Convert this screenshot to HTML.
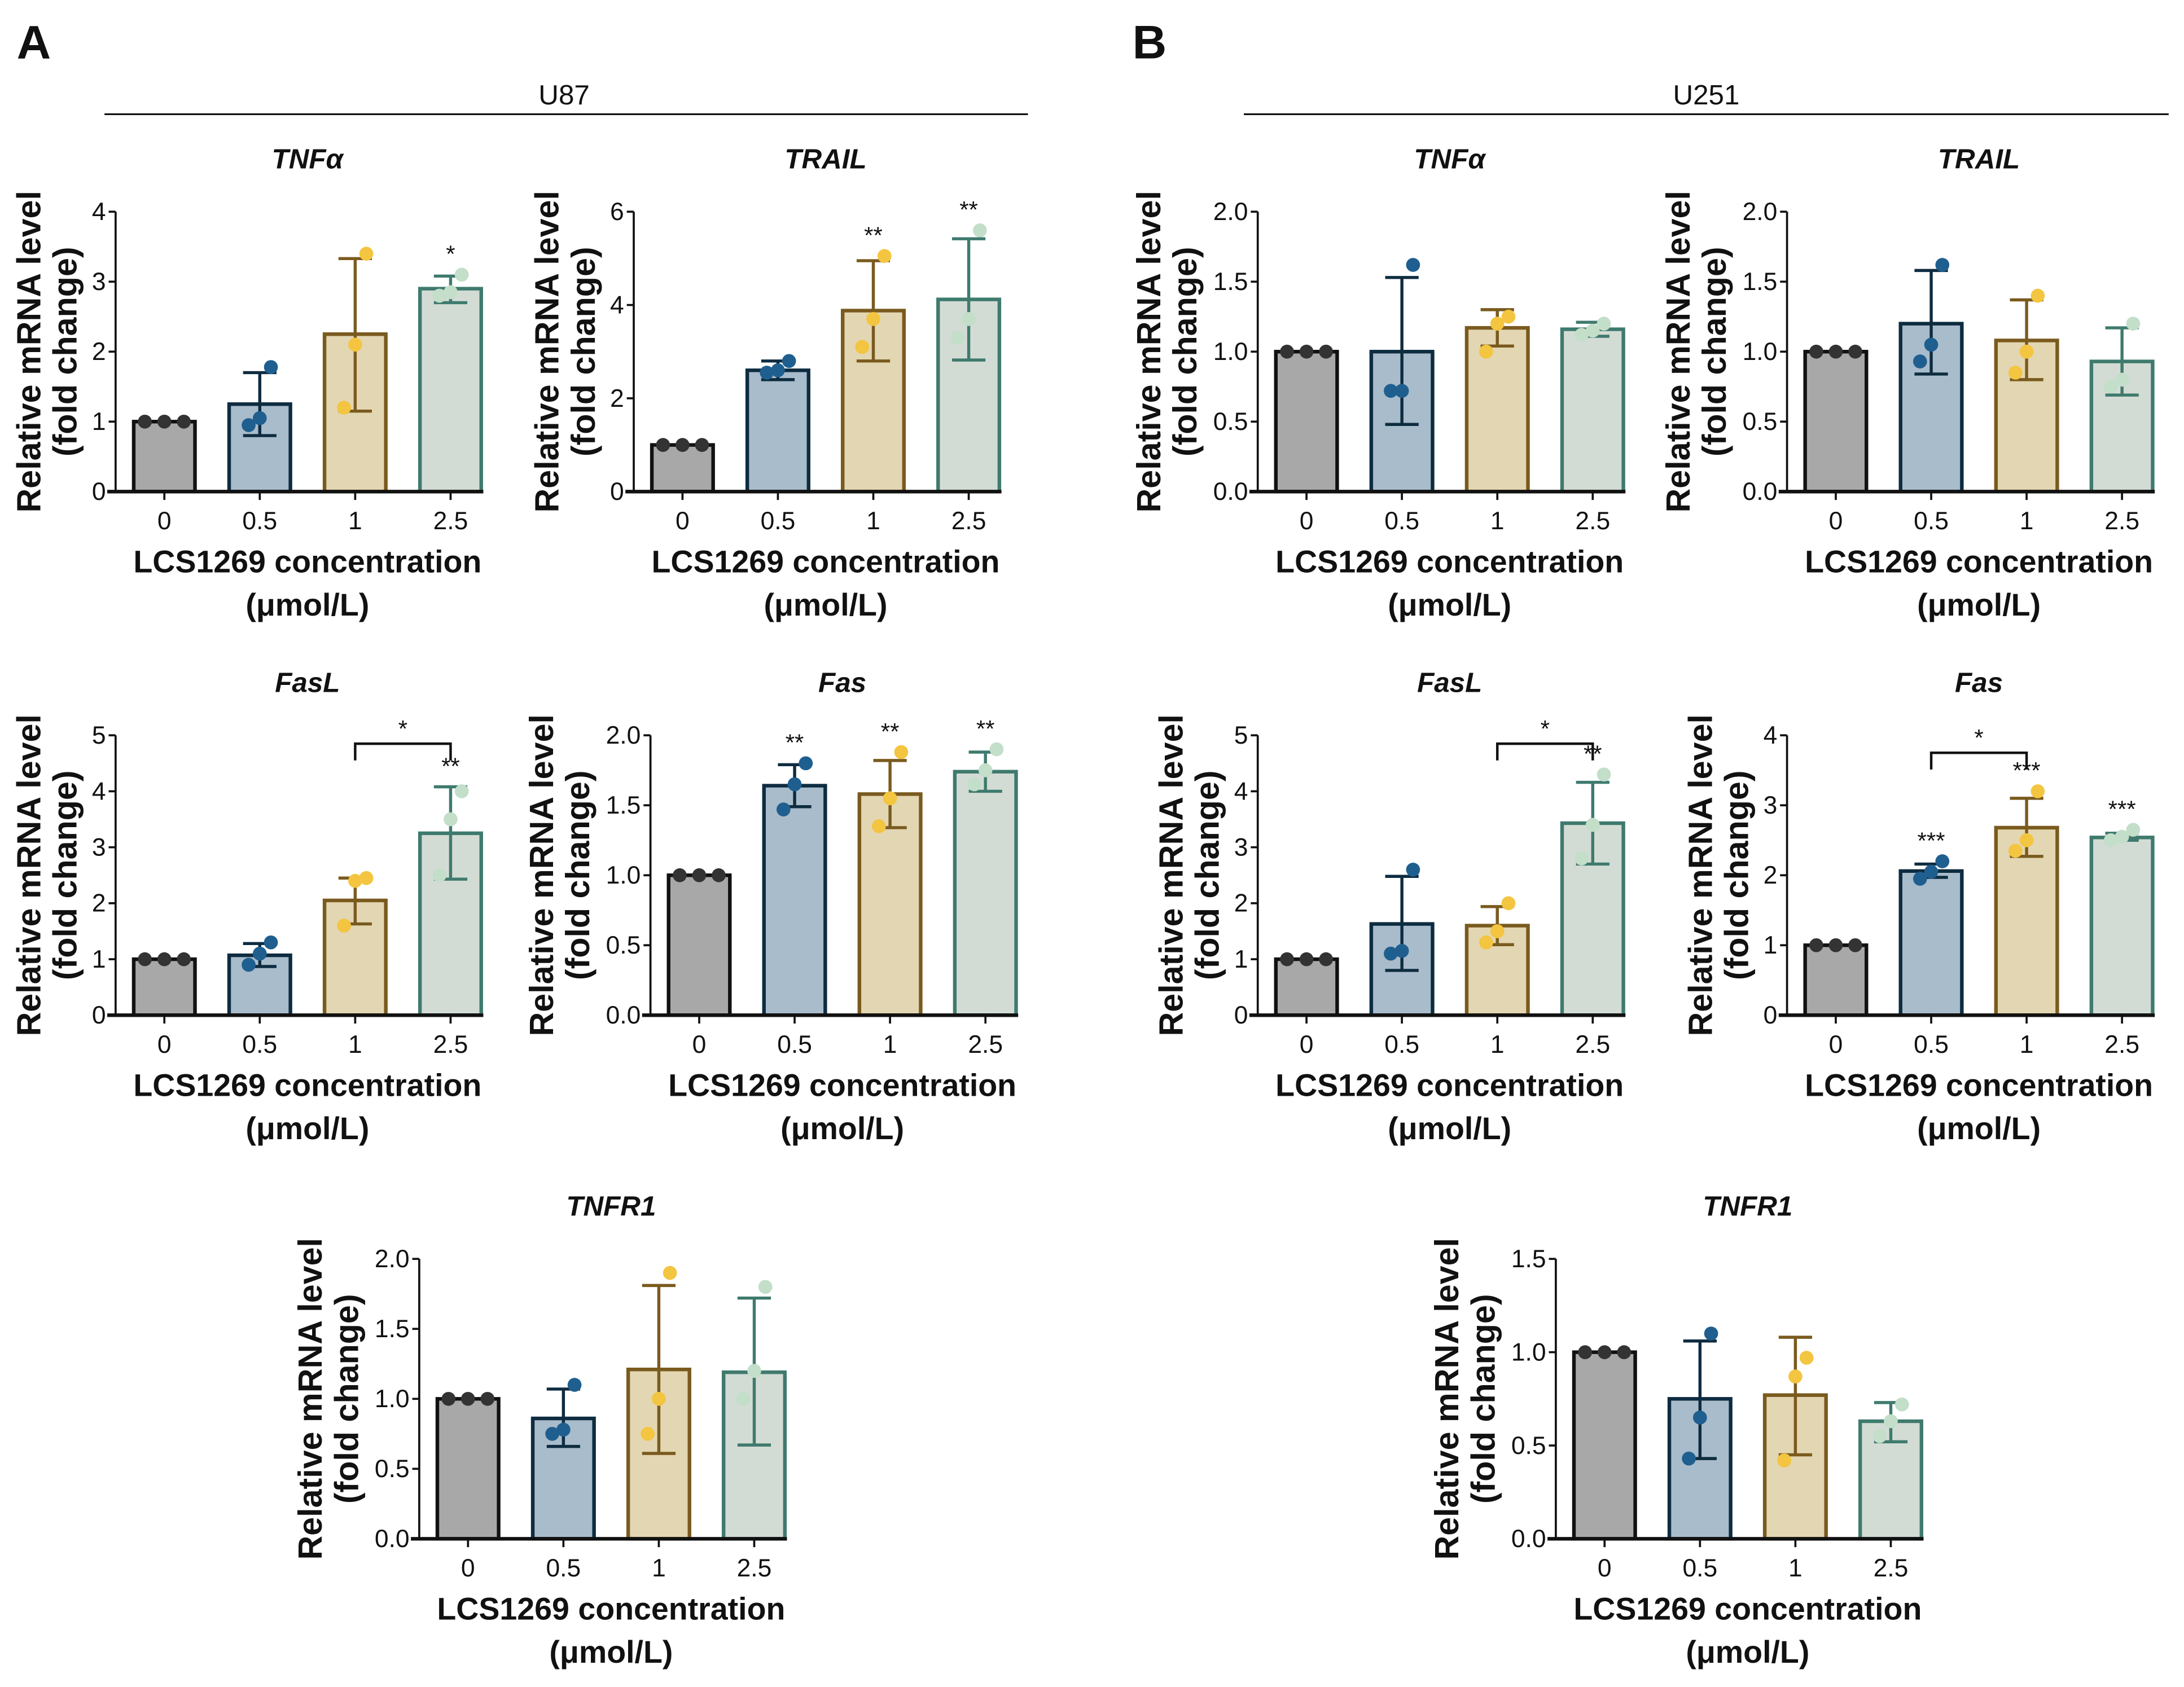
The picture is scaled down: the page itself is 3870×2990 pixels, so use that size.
<!DOCTYPE html>
<html><head><meta charset="utf-8"><style>
html,body{margin:0;padding:0;background:#fff;}
svg{display:block;}
text{font-family:"Liberation Sans",Arial,sans-serif;fill:#111;}
</style></head><body>
<svg id="fig" width="3870" height="2990" viewBox="0 0 1568 1211.4" xmlns="http://www.w3.org/2000/svg">
<text x="12" y="42" font-size="34" font-weight="bold">A</text>
<text x="813" y="42" font-size="34" font-weight="bold">B</text>
<text x="405" y="75" font-size="20" text-anchor="middle">U87</text>
<line x1="75" y1="82" x2="738" y2="82" stroke="#111" stroke-width="1.3"/>
<text x="1225" y="75" font-size="20" text-anchor="middle">U251</text>
<line x1="893" y1="82" x2="1557" y2="82" stroke="#111" stroke-width="1.3"/>
<g id="charts"></g>
</svg>
<script>
const categories = ["0","0.5","1","2.5"];
const titles = ["TNFα","TRAIL","TNFα","TRAIL","FasL","Fas","FasL","Fas","TNFR1","TNFR1"];
const yMax = [4,6,2,2,5,2,5,4,2,1.5];
const yStep = [1,2,0.5,0.5,1,0.5,1,1,0.5,0.5];
const means = [
 [1,1.25,2.25,2.9],[1,2.6,3.88,4.12],[1,1.0,1.17,1.16],[1,1.2,1.08,0.93],
 [1,1.07,2.05,3.25],[1,1.64,1.58,1.74],[1,1.63,1.6,3.43],[1,2.06,2.68,2.54],
 [1,0.86,1.21,1.19],[1,0.75,0.77,0.63]];
const errLow = [
 [1,0.8,1.15,2.7],[1,2.4,2.8,2.82],[1,0.48,1.04,1.11],[1,0.84,0.8,0.69],
 [1,0.87,1.63,2.43],[1,1.49,1.34,1.6],[1,0.8,1.26,2.7],[1,1.97,2.27,2.5],
 [1,0.66,0.61,0.67],[1,0.43,0.45,0.52]];
const errHigh = [
 [1,1.7,3.33,3.08],[1,2.8,4.95,5.42],[1,1.53,1.3,1.21],[1,1.58,1.37,1.17],
 [1,1.28,2.45,4.08],[1,1.79,1.82,1.88],[1,2.48,1.94,4.16],[1,2.16,3.1,2.6],
 [1,1.07,1.81,1.72],[1,1.06,1.08,0.73]];
const points = [
 [[1,1,1],[0.95,1.05,1.78],[1.2,2.1,3.4],[2.8,2.85,3.1]],
 [[1,1,1],[2.55,2.6,2.8],[3.1,3.7,5.05],[3.3,3.7,5.6]],
 [[1,1,1],[0.72,0.72,1.62],[1.0,1.2,1.25],[1.12,1.15,1.2]],
 [[1,1,1],[0.93,1.05,1.62],[0.85,1.0,1.4],[0.75,0.8,1.2]],
 [[1,1,1],[0.9,1.1,1.3],[1.6,2.4,2.45],[2.5,3.5,4.0]],
 [[1,1,1],[1.47,1.65,1.8],[1.35,1.55,1.88],[1.65,1.75,1.9]],
 [[1,1,1],[1.1,1.15,2.6],[1.3,1.5,2.0],[2.8,3.4,4.3]],
 [[1,1,1],[1.95,2.05,2.2],[2.35,2.5,3.2],[2.5,2.55,2.65]],
 [[1,1,1],[0.75,0.78,1.1],[0.75,1.0,1.9],[1.0,1.2,1.8]],
 [[1,1,1],[0.43,0.65,1.1],[0.42,0.87,0.97],[0.55,0.63,0.72]]];
const stars = [
 ["","","","*"],["","","**","**"],["","","",""],["","","",""],
 ["","","","**"],["","**","**","**"],["","","","**"],["","***","***","***"],
 ["","","",""],["","","",""]];
// brackets: [panel, fromBar, toBar, yValue, label]
const brackets = [[4,2,3,4.85,"*"],[6,2,3,4.85,"*"],[7,1,2,3.75,"*"]];

const origins = [[83,353],[455,353],[903,353],[1283,353],[83,729],[467,729],[903,729],[1283,729],[301,1105],[1117,1105]];
const fills = ["#a8a8a8","#a9bccb","#e3d6b2","#d3dcd4"];
const strokes = ["#111111","#0e2c40","#7a5a1e","#3f7a6e"];
const dots = ["#333333","#1f5f8f","#f3c540","#c3dec9"];
const NS="http://www.w3.org/2000/svg";
const root=document.getElementById('charts');
function mk(tag,attrs,parent,txt){const e=document.createElementNS(NS,tag);for(const k in attrs)e.setAttribute(k,attrs[k]);if(txt!==undefined)e.textContent=txt;parent.appendChild(e);return e;}
const H=201, spacing=68.5, off=35, bw=44;
origins.forEach((o,p)=>{
  const ax=o[0], y0=o[1];
  const g=mk('g',{},root);
  
  
  const yS=v=>y0-v/yMax[p]*H;
  const xS=i=>ax+off+i*spacing;
  const xEnd=ax+264;
  const dec=yStep[p]<1?1:0;
  const lab1=dec?ax-70:ax-54, lab2=dec?ax-44:ax-28;
  const t=mk('text',{x:(ax+off+xS(3))/2,y:y0-H-31,'font-size':20,'font-weight':'bold','font-style':'italic','text-anchor':'middle'},g,titles[p]);
  
  
  const yl=mk('text',{transform:`translate(${lab1},${y0-H/2}) rotate(-90)`,'font-size':24,'font-weight':'bold','text-anchor':'middle'},g,'Relative mRNA level');
  
  
  const yl2=mk('text',{transform:`translate(${lab2},${y0-H/2}) rotate(-90)`,'font-size':24,'font-weight':'bold','text-anchor':'middle'},g,'(fold change)');
  
  
  for(let v=0;v<=yMax[p]+1e-9;v+=yStep[p]){
    mk('line',{x1:ax-5,x2:ax,y1:yS(v),y2:yS(v),stroke:'#111','stroke-width':1.5},g);
    const tl=mk('text',{x:ax-7,y:yS(v)+6,'font-size':18,'text-anchor':'end'},g,v.toFixed(dec));
    
    
  }
  categories.forEach((c,i)=>{
    const cx=xS(i);
    const b=mk('rect',{x:cx-bw/2,y:yS(means[p][i]),width:bw,height:y0-yS(means[p][i]),fill:fills[i],stroke:strokes[i],'stroke-width':2.6},g);
    
    
    if(i>0){
      const eb=mk('path',{d:`M${cx},${yS(errLow[p][i])}V${yS(errHigh[p][i])}M${cx-12},${yS(errLow[p][i])}H${cx+12}M${cx-12},${yS(errHigh[p][i])}H${cx+12}`,stroke:strokes[i],'stroke-width':2.2,fill:'none'},g);
      
      
    }
    points[p][i].forEach((v,k)=>{
      const dx=i==0?(k-1)*14:(k-1)*8;
      const d=mk('circle',{cx:cx+dx,cy:yS(v),r:5,fill:dots[i]},g);
      
      
    });
    if(stars[p][i]){
      const topv=Math.max(errHigh[p][i],...points[p][i]);
      const s=mk('text',{x:cx,y:yS(topv)-9,'font-size':17,'text-anchor':'middle'},g,stars[p][i]);
      
      
    }
    mk('line',{x1:cx,x2:cx,y1:y0,y2:y0+6,stroke:'#111','stroke-width':1.5},g);
    const xl=mk('text',{x:cx,y:y0+27,'font-size':18,'text-anchor':'middle'},g,c);
    
    
  });
  mk('line',{x1:ax,x2:ax,y1:yS(yMax[p]),y2:y0,stroke:'#111','stroke-width':1.5},g);
  mk('line',{x1:ax-6,x2:xEnd,y1:y0,y2:y0,stroke:'#111','stroke-width':2.6},g);
  const xt=mk('text',{x:(ax+off+xS(3))/2,y:y0+58,'font-size':22.5,'font-weight':'bold','text-anchor':'middle'},g,'LCS1269 concentration');
  
  
  const xu=mk('text',{x:(ax+off+xS(3))/2,y:y0+89,'font-size':22.5,'font-weight':'bold','text-anchor':'middle'},g,'(μmol/L)');
  
  
  brackets.filter(b=>b[0]===p).forEach(b=>{
    const x1=xS(b[1]),x2=xS(b[2]),yy=yS(b[3]);
    const br=mk('path',{d:`M${x1},${yy+12}V${yy}H${x2}V${yy+12}`,stroke:'#111','stroke-width':1.8,fill:'none'},g);
    
    
    const bs=mk('text',{x:(x1+x2)/2,y:yy-5,'font-size':17,'text-anchor':'middle'},g,b[4]);
    
    
  });
});
</script>
</body></html>
